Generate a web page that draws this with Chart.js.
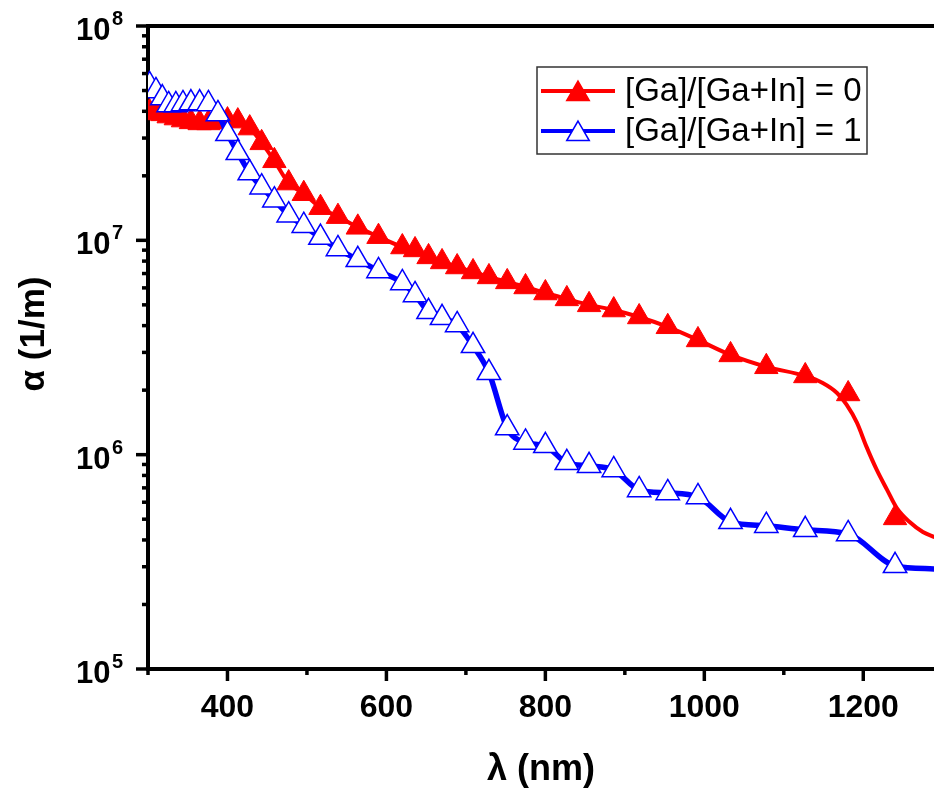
<!DOCTYPE html>
<html>
<head>
<meta charset="utf-8">
<script src="https://cdn.jsdelivr.net/npm/chart.js@4/dist/chart.umd.min.js"></script>
<style>
  html, body { margin: 0; padding: 0; background: #fff; overflow: hidden; }
  #wrap { width: 934px; height: 792px; }
</style>
</head>
<body>
<div id="wrap"><canvas id="chart" width="934" height="792"></canvas></div>
<script>
// wavelengths of the markers (nm), same for both samples
const wavelength = [302, 310, 318, 326, 335, 344, 354, 365, 376, 388, 400, 413, 428, 443, 459, 477, 496, 517, 539, 564,
  590, 620, 636, 653, 670, 689, 709, 729, 752, 775, 800, 827, 855, 886, 918, 954, 992, 1033, 1078, 1127, 1181, 1240];

// absorption coefficient (1/m), [Ga]/[Ga+In] = 0
const alphaGa0 = [3.97e7, 3.93e7, 3.89e7, 3.80e7, 3.72e7, 3.64e7, 3.57e7, 3.53e7, 3.53e7, 3.57e7, 3.64e7, 3.60e7, 3.34e7,
  2.85e7, 2.35e7, 1.85e7, 1.65e7, 1.42e7, 1.29e7, 1.15e7, 1.04e7, 9.31e6, 9.02e6, 8.37e6, 7.93e6, 7.51e6, 7.12e6, 6.75e6,
  6.40e6, 6.06e6, 5.68e6, 5.33e6, 5.00e6, 4.73e6, 4.39e6, 3.95e6, 3.43e6, 2.92e6, 2.57e6, 2.33e6, 1.92e6, 5.07e5];

// absorption coefficient (1/m), [Ga]/[Ga+In] = 1
const alphaGa1 = [5.31e7, 4.98e7, 4.61e7, 4.28e7, 4.28e7, 4.33e7, 4.37e7, 4.37e7, 4.33e7, 3.89e7, 3.14e7, 2.56e7, 2.06e7,
  1.77e7, 1.54e7, 1.31e7, 1.17e7, 1.03e7, 9.12e6, 8.11e6, 7.20e6, 6.33e6, 5.56e6, 4.64e6, 4.35e6, 4.03e6, 3.22e6, 2.41e6,
  1.33e6, 1.14e6, 1.10e6, 9.16e5, 8.87e5, 8.49e5, 6.85e5, 6.63e5, 6.35e5, 4.86e5, 4.66e5, 4.46e5, 4.27e5, 3.03e5];

// smooth curves leave the markers at the long wavelength end
const curveTailLambdaGa0 = [1149, 1167, 1179, 1192, 1204, 1217, 1230, 1242, 1258, 1275, 1290];
const curveTailGa0 = [2.16e6, 1.94e6, 1.71e6, 1.41e6, 1.09e6, 8.49e5, 6.85e5, 5.65e5, 4.86e5, 4.36e5, 4.12e5];
const curveTailLambdaGa1 = [1290];
const curveTailGa1 = [2.93e5];

const xMajorTicks = [400, 600, 800, 1000, 1200];
const xMinorTicks = [300, 500, 700, 900, 1100];
const yDecades = [1e5, 1e6, 1e7, 1e8];
const legendLabels = ['[Ga]/[Ga+In] = 0', '[Ga]/[Ga+In] = 1'];
const yTitle = 'α (1/m)';

const RED = '#ff0000';
const BLUE = '#0000ff';
const SANS = "'Liberation Sans', Arial, sans-serif";

function toPoints(xs, ys) {
  return xs.map((v, i) => ({x: v, y: ys[i]}));
}

// line of sample 0: markers up to 1127 nm, then the fitted tail
const lineGa0 = toPoints(wavelength.slice(0, 40), alphaGa0.slice(0, 40))
  .concat(toPoints(curveTailLambdaGa0, curveTailGa0));
const lineGa1 = toPoints(wavelength, alphaGa1).concat(toPoints(curveTailLambdaGa1, curveTailGa1));

const originAxes = {
  id: 'originAxes',
  afterDraw(chart) {
    const {ctx, chartArea: area, scales: {x, y}} = chart;
    const helpers = Chart.helpers;
    ctx.save();
    ctx.strokeStyle = '#000';
    ctx.lineCap = 'butt';

    // top frame line
    ctx.lineWidth = 4;
    ctx.beginPath();
    ctx.moveTo(area.left - 2, area.top);
    ctx.lineTo(area.right + 2, area.top);
    ctx.stroke();

    // tick marks
    ctx.lineWidth = 3.5;
    const tick = (x1, y1, x2, y2) => { ctx.beginPath(); ctx.moveTo(x1, y1); ctx.lineTo(x2, y2); ctx.stroke(); };
    xMajorTicks.forEach(v => { const px = x.getPixelForValue(v); tick(px, area.bottom, px, area.bottom + 12); });
    xMinorTicks.forEach(v => { const px = x.getPixelForValue(v); tick(px, area.bottom, px, area.bottom + 6); });
    yDecades.forEach((d, i) => {
      const py = y.getPixelForValue(d);
      tick(area.left, py, area.left - 12, py);
      if (i < yDecades.length - 1) {
        for (let k = 2; k <= 9; k++) {
          const pm = y.getPixelForValue(k * d);
          tick(area.left, pm, area.left - 6, pm);
        }
      }
    });

    // y tick labels 10^n
    ctx.fillStyle = '#000';
    ctx.textAlign = 'left';
    ctx.textBaseline = 'alphabetic';
    yDecades.forEach(d => {
      const py = y.getPixelForValue(d);
      const exp = Math.round(Math.log10(d));
      ctx.font = 'bold 31px ' + SANS;
      ctx.fillText('10', 76, py + 14);
      ctx.font = 'bold 20px ' + SANS;
      ctx.fillText(String(exp), 112, py - 1);
    });

    // y axis title
    ctx.save();
    ctx.translate(34, 334);
    ctx.rotate(-Math.PI / 2);
    ctx.textAlign = 'center';
    ctx.textBaseline = 'middle';
    ctx.font = 'bold 35px ' + SANS;
    ctx.fillText(yTitle, 0, 0);
    ctx.restore();

    // legend box
    ctx.lineWidth = 1.5;
    ctx.strokeStyle = '#333';
    ctx.strokeRect(537, 67, 330, 87);
    const rows = [
      {y: 91, color: RED, fill: RED, width: 4},
      {y: 131, color: BLUE, fill: '#fff', width: 4}
    ];
    rows.forEach((r, i) => {
      ctx.strokeStyle = r.color;
      ctx.lineWidth = r.width;
      ctx.beginPath();
      ctx.moveTo(541, r.y);
      ctx.lineTo(615, r.y);
      ctx.stroke();
      ctx.fillStyle = r.fill;
      ctx.strokeStyle = r.color;
      ctx.lineWidth = 1.5;
      helpers.drawPoint(ctx, {pointStyle: 'triangle', radius: 13, rotation: 0, borderWidth: 1.5}, 578, r.y + 3);
      ctx.fillStyle = '#000';
      ctx.font = '33px ' + SANS;
      ctx.textAlign = 'left';
      ctx.textBaseline = 'middle';
      ctx.fillText(legendLabels[i], 625, r.y + 1);
    });
    ctx.restore();
  }
};

const ctx = document.getElementById('chart').getContext('2d');
const chart = new Chart(ctx, {
  type: 'line',
  data: {
    datasets: [
      {
        label: legendLabels[1] + ' markers',
        data: toPoints(wavelength, alphaGa1),
        showLine: false,
        pointStyle: 'triangle',
        pointRadius: 13.5,
        pointBackgroundColor: '#fff',
        pointBorderColor: BLUE,
        pointBorderWidth: 1.5,
        order: 0
      },
      {
        label: legendLabels[1],
        data: lineGa1,
        borderColor: BLUE,
        borderWidth: 5.5,
        pointRadius: 0,
        cubicInterpolationMode: 'monotone',
        order: 1
      },
      {
        label: legendLabels[0] + ' markers',
        data: toPoints(wavelength, alphaGa0),
        showLine: false,
        pointStyle: 'triangle',
        pointRadius: 13.5,
        pointBackgroundColor: RED,
        pointBorderColor: RED,
        pointBorderWidth: 1,
        order: 2
      },
      {
        label: legendLabels[0],
        data: lineGa0,
        borderColor: RED,
        borderWidth: 4,
        pointRadius: 0,
        cubicInterpolationMode: 'monotone',
        order: 3
      }
    ]
  },
  options: {
    responsive: false,
    animation: false,
    events: [],
    layout: { autoPadding: false, padding: { left: 0, top: 26, right: 0, bottom: 0 } },
    plugins: { legend: { display: false }, tooltip: { enabled: false } },
    scales: {
      x: {
        type: 'linear',
        min: 300,
        max: 1289,
        afterBuildTicks: s => { s.ticks = xMajorTicks.map(v => ({value: v})); },
        afterFit: s => { s.height = 123; s.paddingLeft = 0; s.paddingRight = 0; },
        grid: { display: false },
        border: { display: true, color: '#000', width: 4 },
        ticks: {
          color: '#000',
          padding: 12,
          maxRotation: 0,
          callback: v => String(v),
          font: { family: SANS, size: 32, weight: 'bold' }
        },
        title: {
          display: true,
          text: 'λ (nm)',
          color: '#000',
          padding: { top: 0, bottom: 0 },
          font: { family: SANS, size: 36, weight: 'bold' }
        }
      },
      y: {
        type: 'logarithmic',
        min: 1e5,
        max: 1e8,
        afterFit: s => { s.width = 148; s.paddingTop = 0; s.paddingBottom = 0; },
        grid: { display: false },
        border: { display: true, color: '#000', width: 4 },
        ticks: { display: false }
      }
    }
  },
  plugins: [originAxes]
});
</script>
</body>
</html>
